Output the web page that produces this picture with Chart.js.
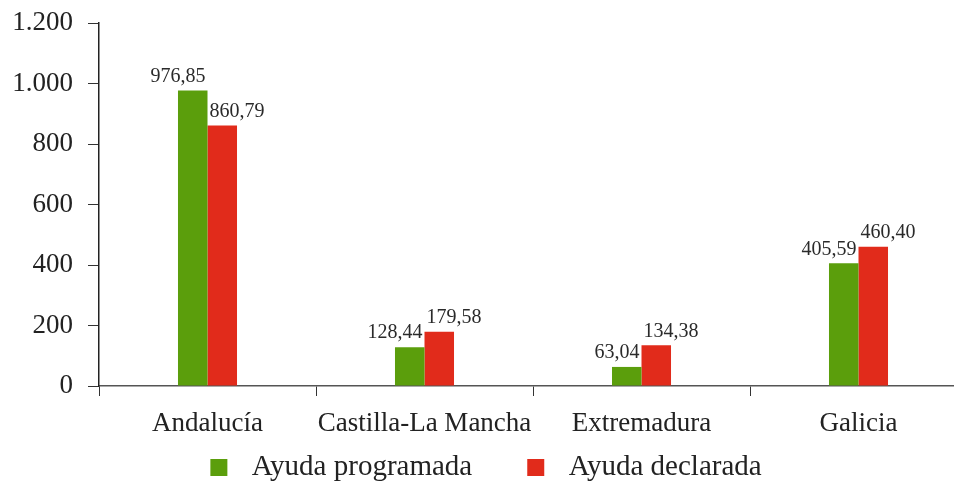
<!DOCTYPE html>
<html>
<head>
<meta charset="utf-8">
<script src="https://cdn.jsdelivr.net/npm/chart.js@4/dist/chart.umd.min.js"></script>
<style>
  body { margin: 0; background: #fff; overflow: hidden; }
</style>
</head>
<body>
<canvas id="chart" width="967" height="485"></canvas>
<script>
let regions = ['Andalucía', 'Castilla-La Mancha', 'Extremadura', 'Galicia']
let programada = [976.85, 128.44, 63.04, 405.59]
let declarada = [860.79, 179.58, 134.38, 460.40]
let yTicks = ['0', '200', '400', '600', '800', '1.000', '1.200']

let green = '#5b9e0c'
let red = '#e12b1b'
let serif = 'Liberation Serif'

// legend marker: square on the left of a wider transparent box
function legendIcon(color) {
    let c = document.createElement('canvas')
    c.width = 78
    c.height = 17
    let ctx = c.getContext('2d')
    ctx.fillStyle = color
    ctx.fillRect(51, 0, 17, 17)
    return c
}

let valueLabels = {
    id: 'valueLabels',
    afterDatasetsDraw(chart) {
        let ctx = chart.ctx
        ctx.save()
        ctx.font = '20px "' + serif + '"'
        ctx.fillStyle = '#2a2a2a'
        ctx.textBaseline = 'bottom'
        chart.data.datasets.forEach((ds, i) => {
            chart.getDatasetMeta(i).data.forEach((bar, j) => {
                let txt = ds.data[j].toFixed(2).replace('.', ',')
                if (i === 0) {
                    ctx.textAlign = 'right'
                    ctx.fillText(txt, bar.x + bar.width / 2 - 2, bar.y - 4)
                } else {
                    ctx.textAlign = 'left'
                    ctx.fillText(txt, bar.x - bar.width / 2 + 2, bar.y - 4)
                }
            })
        })
        ctx.restore()
    }
}

// the legend row starts with blank space, pull it back to be centred
let shiftLegend = {
    id: 'shiftLegend',
    afterLayout(chart) {
        chart.legend.left -= 23
        chart.legend.right -= 23
    }
}

new Chart(document.getElementById('chart'), {
    type: 'bar',
    data: {
        labels: regions,
        datasets: [
            { label: 'Ayuda programada', data: programada, backgroundColor: green, pointStyle: legendIcon(green) },
            { label: 'Ayuda declarada', data: declarada, backgroundColor: red, pointStyle: legendIcon(red) }
        ]
    },
    options: {
        responsive: false,
        animation: false,
        layout: { autoPadding: false, padding: { top: 23, left: 0, right: 0, bottom: -7 } },
        datasets: {
            bar: { categoryPercentage: 0.272, barPercentage: 1 }
        },
        scales: {
            x: {
                grid: { drawOnChartArea: false, tickLength: 10, color: '#333', offset: true },
                border: { color: '#555', width: 1.5 },
                ticks: {
                    color: '#222',
                    padding: 12,
                    maxRotation: 0,
                    minRotation: 0,
                    autoSkip: false,
                    font: { family: serif, size: 27 }
                },
                afterFit: s => { s.height = 63 }
            },
            y: {
                min: 0,
                max: 1200,
                grid: { drawOnChartArea: false, tickLength: 11, color: '#333' },
                border: { color: '#222', width: 1.5 },
                ticks: {
                    stepSize: 200,
                    color: '#222',
                    padding: 15,
                    // small line height so the top label does not push the plot down
                    font: { family: serif, size: 27, lineHeight: 0.5 },
                    callback: (v, i) => yTicks[i]
                },
                afterFit: s => { s.width = 99 }
            }
        },
        plugins: {
            tooltip: { enabled: false },
            legend: {
                position: 'bottom',
                labels: {
                    usePointStyle: true,
                    pointStyleWidth: 78,
                    boxHeight: 17,
                    padding: 4,
                    color: '#222',
                    font: { family: serif, size: 29 }
                }
            }
        }
    },
    plugins: [valueLabels, shiftLegend]
})
</script>
</body>
</html>
